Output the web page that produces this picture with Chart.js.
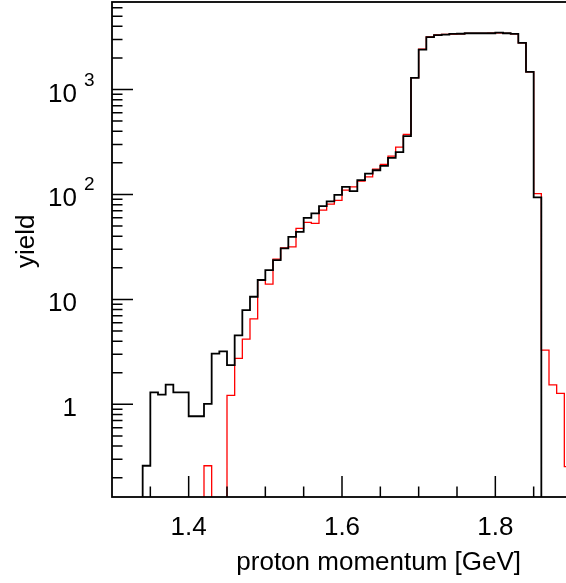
<!DOCTYPE html>
<html><head><meta charset="utf-8">
<script src="https://cdn.jsdelivr.net/npm/chart.js@4.4.1/dist/chart.umd.min.js"></script>
<style>html,body{margin:0;padding:0;background:#fff;overflow:hidden}#wrap{width:580px;height:583px;position:relative}</style>
</head><body><div id="wrap"><canvas id="c"></canvas></div>
<script>
// ---- data ----
const binLowEdges = [1.30,1.31,1.32,1.33,1.34,1.35,1.36,1.37,1.38,1.39,
  1.40,1.41,1.42,1.43,1.44,1.45,1.46,1.47,1.48,1.49,
  1.50,1.51,1.52,1.53,1.54,1.55,1.56,1.57,1.58,1.59,
  1.60,1.61,1.62,1.63,1.64,1.65,1.66,1.67,1.68,1.69,
  1.70,1.71,1.72,1.73,1.74,1.75,1.76,1.77,1.78,1.79,
  1.80,1.81,1.82,1.83,1.84,1.85,1.86,1.87,1.88,1.89];
const binWidth = 0.01;
const blackYield = [0,0,0,0,0.26,1.30,1.24,1.54,1.30,1.30,
  0.77,0.77,1.01,3.05,3.2,2.37,4.54,7.9,10.6,15.3,
  19.0,23.7,30.6,39.4,44.0,59.8,65.9,77.4,85.8,99,
  118,107.5,137,158,170,187,223,253,359,1289,
  2403,3162,3300,3330,3390,3400,3435,3435,3435,3435,
  3490,3435,3390,2780,1472,93.6,0,0,0,0];
const redYield = [0,0,0,0,0,0,0,0,0,0,
  0,0,0.26,0,0,1.22,2.74,4.19,6.53,15.3,
  14.0,24.2,31.0,31.7,47.5,54.1,53,70.8,80.9,88,
  110,118,134,147,174,193,232,282,373,1300,
  2420,3180,3310,3350,3380,3400,3430,3430,3430,3440,
  3470,3430,3390,2780,1472,102,3.29,1.53,1.27,0.255];
const xMajorTicks = [1.4,1.6,1.8];
const xMinorTicks = [1.35,1.45,1.5,1.55,1.65,1.7,1.75,1.85];
const yMajorTicks = [1,10,100,1000];
const yMinorTicks = [0.2,0.3,0.4,0.5,0.6,0.7,0.8,0.9,2,3,4,5,6,7,8,9,
  20,30,40,50,60,70,80,90,200,300,400,500,600,700,800,900,2000,3000,4000,5000,6000];
const yTickBase = ['1','10','10','10'];
const yTickExp = ['','','2','3'];
const xTitle = 'proton momentum [GeV]';
const yTitle = 'yield';
const yMin = 0.131, yMax = 6820;

const FONT = "'Liberation Sans', Arial, Helvetica, sans-serif";
const FLOOR = 1e-3; // empty bins fall below the axis
function histPoints(vals){
  const pts = vals.map((v,i)=>({x: binLowEdges[i], y: v>0 ? v : FLOOR}));
  const last = vals.length-1;
  pts.push({x: binLowEdges[last]+binWidth, y: vals[last]>0 ? vals[last] : FLOOR});
  return pts;
}

const decor = {
  id: 'decor',
  afterDraw(chart){
    const {ctx, chartArea: a} = chart;
    const xs = chart.scales.x, ys = chart.scales.y;
    ctx.save();
    ctx.strokeStyle = '#000';
    ctx.lineWidth = 1.5;
    ctx.beginPath();
    xMajorTicks.forEach(v=>{const p=xs.getPixelForValue(v); ctx.moveTo(p,a.bottom); ctx.lineTo(p,a.bottom-21);});
    xMinorTicks.forEach(v=>{const p=xs.getPixelForValue(v); ctx.moveTo(p,a.bottom); ctx.lineTo(p,a.bottom-10.5);});
    yMajorTicks.forEach(v=>{const p=ys.getPixelForValue(v); ctx.moveTo(a.left,p); ctx.lineTo(a.left+21,p);});
    yMinorTicks.forEach(v=>{const p=ys.getPixelForValue(v); ctx.moveTo(a.left,p); ctx.lineTo(a.left+10.5,p);});
    ctx.stroke();
    ctx.lineWidth = 1.8;
    ctx.strokeRect(a.left, a.top, a.right-a.left, a.bottom-a.top);
    ctx.fillStyle = '#000';
    yMajorTicks.forEach((v,i)=>{
      const p = ys.getPixelForValue(v);
      ctx.font = '26px ' + FONT;
      ctx.textAlign = 'right'; ctx.textBaseline = 'alphabetic';
      ctx.fillText(yTickBase[i], 77, p + 12);
      if (yTickExp[i]) {
        ctx.font = '19px ' + FONT;
        ctx.textAlign = 'left';
        ctx.fillText(yTickExp[i], 84, p - 4);
      }
    });
    ctx.font = '26px ' + FONT;
    ctx.textAlign = 'right'; ctx.textBaseline = 'alphabetic';
    ctx.fillText(xTitle, 521, 570);
    ctx.translate(34, 268);
    ctx.rotate(-Math.PI/2);
    ctx.textAlign = 'left';
    ctx.fillText(yTitle, 0, 0);
    ctx.restore();
  }
};

new Chart(document.getElementById('c'), {
  type: 'line',
  data: {
    datasets: [
      {label: 'black', data: histPoints(blackYield), borderColor: '#000', borderWidth: 1.8,
       stepped: 'before', pointRadius: 0, fill: false, tension: 0},
      {label: 'red', data: histPoints(redYield), borderColor: '#ff0000', borderWidth: 1.3,
       stepped: 'before', pointRadius: 0, fill: false, tension: 0}
    ]
  },
  options: {
    responsive: true, maintainAspectRatio: false, animation: false, devicePixelRatio: 1,
    layout: {padding: {top: 2, right: 8, left: 0, bottom: 0}},
    plugins: {legend: {display: false}, tooltip: {enabled: false}},
    scales: {
      x: {
        type: 'linear', min: 1.3, max: 1.9,
        grid: {display: false, drawTicks: false},
        border: {display: false},
        afterBuildTicks: s => { s.ticks = xMajorTicks.map(v=>({value: v})); },
        afterFit: s => { s.height = 86; },
        ticks: {color: '#000', padding: 15, maxRotation: 0, autoSkip: false,
          font: {family: FONT, size: 26}, callback: v => Number(v).toFixed(1)}
      },
      y: {
        type: 'logarithmic', min: yMin, max: yMax,
        grid: {display: false, drawTicks: false},
        border: {display: false},
        afterBuildTicks: s => { s.ticks = yMajorTicks.map(v=>({value: v, major: true})); },
        afterFit: s => { s.width = 112; },
        ticks: {display: false}
      }
    }
  },
  plugins: [decor]
});
</script></body></html>
